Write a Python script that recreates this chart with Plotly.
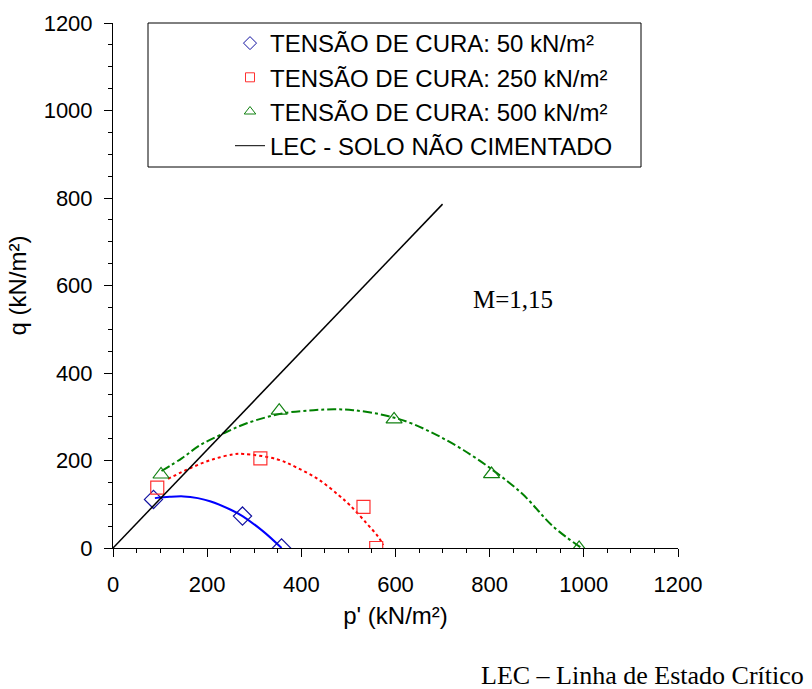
import plotly.graph_objects as go

# ---- data ----
p_50 = [86, 275, 358]
q_50 = [111, 73, 0]
p_250 = [94, 313, 532, 559]
q_250 = [138, 205, 94, 0]
p_500 = [102, 353, 597, 804, 990]
q_500 = [168, 314, 294, 169, 0]

# fitted trend curves
fit_p_50 = [89, 120, 150, 180, 206, 249, 275, 319, 358]
fit_q_50 = [114, 117, 118, 114, 107, 88, 73, 38, 0]
fit_p_250 = [117, 167, 213, 256, 277, 348, 390, 436, 479, 503, 539, 563, 574]
fit_q_250 = [158, 184, 203, 214, 215, 203, 184, 157, 121, 98, 56, 26, 7]
fit_p_500 = [103, 146, 185, 231, 284, 362, 426, 470, 510, 574, 638, 744, 864, 935, 995]
fit_q_500 = [176, 205, 235, 260, 285, 308, 315, 317, 315, 304, 283, 224, 129, 49, 0]

lec_p = [0, 700]
lec_q = [0, 786]

x_ticks = [0, 200, 400, 600, 800, 1000, 1200]
y_ticks = [0, 200, 400, 600, 800, 1000, 1200]

names = ["TENSÃO DE CURA: 50 kN/m²", "TENSÃO DE CURA: 250 kN/m²",
         "TENSÃO DE CURA: 500 kN/m²", "LEC - SOLO NÃO CIMENTADO"]

SANS = "Liberation Sans, Arial, sans-serif"
SERIF = "Liberation Serif, Times New Roman, serif"

C_BLUE_M, C_RED_M, C_GREEN_M = "#1010A0", "#FF3030", "#108010"

fig = go.Figure()

# curves (no legend)
fig.add_trace(go.Scatter(x=fit_p_50, y=fit_q_50, mode="lines", line=dict(color="#0000FF", width=2, shape="spline"),
                         showlegend=False, hoverinfo="skip"))
fig.add_trace(go.Scatter(x=fit_p_250, y=fit_q_250, mode="lines", line=dict(color="#FF0000", width=2, dash="dot", shape="spline"),
                         showlegend=False, hoverinfo="skip"))
fig.add_trace(go.Scatter(x=fit_p_500, y=fit_q_500, mode="lines", line=dict(color="#008000", width=2, dash="dashdot", shape="spline"),
                         showlegend=False, hoverinfo="skip"))

# markers
fig.add_trace(go.Scatter(x=p_50, y=q_50, mode="markers", showlegend=False,
                         marker=dict(symbol="diamond-open", size=14, color=C_BLUE_M, line=dict(width=1.2))))
fig.add_trace(go.Scatter(x=p_250, y=q_250, mode="markers", showlegend=False,
                         marker=dict(symbol="square-open", size=13, color=C_RED_M, line=dict(width=1.2))))
fig.add_trace(go.Scatter(x=p_500, y=q_500, mode="markers", showlegend=False,
                         marker=dict(symbol="triangle-up-open", size=14, color=C_GREEN_M, line=dict(width=1.2))))
fig.add_trace(go.Scatter(x=lec_p, y=lec_q, mode="lines", showlegend=False,
                         line=dict(color="black", width=1.5)))

# legend entries (smaller symbols, as in the reference)
fig.add_trace(go.Scatter(x=[None], y=[None], mode="markers", name=names[0],
                         marker=dict(symbol="diamond-open", size=10, color=C_BLUE_M, line=dict(width=1))))
fig.add_trace(go.Scatter(x=[None], y=[None], mode="markers", name=names[1],
                         marker=dict(symbol="square-open", size=9, color=C_RED_M, line=dict(width=1))))
fig.add_trace(go.Scatter(x=[None], y=[None], mode="markers", name=names[2],
                         marker=dict(symbol="triangle-up-open", size=10, color=C_GREEN_M, line=dict(width=1))))
fig.add_trace(go.Scatter(x=[None], y=[None], mode="lines", name=names[3],
                         line=dict(color="black", width=1)))

axis_common = dict(
    showgrid=False, zeroline=False, showline=True, linecolor="black", linewidth=1,
    ticks="outside", ticklen=8, tickwidth=1, tickcolor="black",
    tickfont=dict(family=SANS, size=22, color="black"),
    minor=dict(ticks="outside", ticklen=4, tickwidth=1, tickcolor="black", dtick=50, showgrid=False),
    range=[0, 1200],
)

fig.update_xaxes(**axis_common)
fig.update_yaxes(**axis_common)
fig.update_xaxes(tickvals=x_ticks, ticklabelstandoff=9,
                 title=dict(text="p' (kN/m²)", font=dict(family=SANS, size=24, color="black"), standoff=10))
fig.update_yaxes(tickvals=y_ticks, ticklabelstandoff=7,
                 title=dict(text="q (kN/m²)", font=dict(family=SANS, size=24, color="black"), standoff=10))

# legend frame
fig.add_shape(type="rect", xref="paper", yref="paper",
              x0=(148 - 113) / 565, x1=(641 - 113) / 565,
              y0=(548 - 167) / 525, y1=(548 - 23) / 525,
              line=dict(color="black", width=1), fillcolor="white", layer="below")

fig.add_annotation(x=850, y=569, xref="x", yref="y", text="M=1,15", showarrow=False,
                   font=dict(family=SERIF, size=25, color="black"))
fig.add_annotation(x=(806 - 113) / 565, y=(548 - 692) / 525, xref="paper", yref="paper",
                   xanchor="right", yanchor="bottom", text="LEC – Linha de Estado Crítico", showarrow=False,
                   font=dict(family=SERIF, size=26, color="black"))

fig.update_layout(
    width=812, height=689, autosize=False,
    margin=dict(l=113, r=134, t=23, b=141),
    paper_bgcolor="white", plot_bgcolor="white",
    legend=dict(x=(230 - 113) / 565, y=(548 - 21) / 525, xanchor="left", yanchor="top",
                bgcolor="rgba(0,0,0,0)", borderwidth=0,
                font=dict(family=SANS, size=24, color="black"),
                tracegroupgap=0),
    font=dict(family=SANS, color="black"),
)

fig.write_html("out.html")
